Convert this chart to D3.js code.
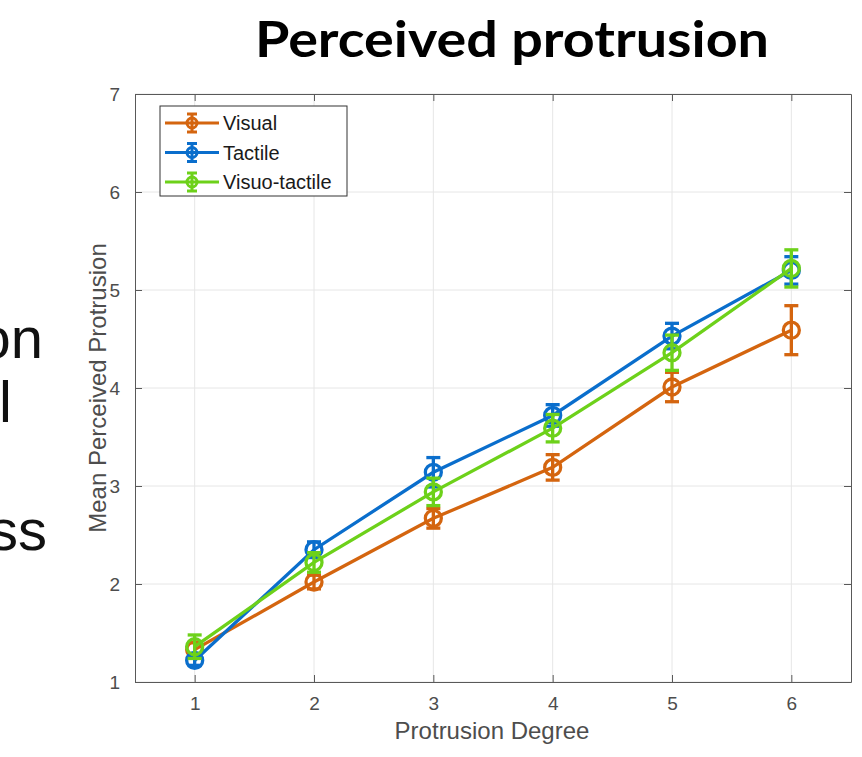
<!DOCTYPE html>
<html>
<head>
<meta charset="utf-8">
<script src="https://cdn.jsdelivr.net/npm/d3@7"></script>
<style>
  body { margin:0; background:#fff; }
  svg { display:block; }
</style>
</head>
<body>
<svg id="viewer"></svg>
<script>
// data
var degrees = [1,2,3,4,5,6];
var seriesNames = ['Visual','Tactile','Visuo-tactile'];
var visualMean  = [1.33,2.02,2.67,3.19,4.01,4.59];
var visualErr   = [0.07,0.07,0.10,0.13,0.15,0.25];
var tactileMean = [1.22,2.35,3.14,3.72,4.53,5.20];
var tactileErr  = [0.05,0.08,0.15,0.11,0.13,0.14];
var visuoMean   = [1.36,2.22,2.94,3.59,4.36,5.22];
var visuoErr    = [0.12,0.10,0.14,0.14,0.18,0.19];
var yTicks = [1,2,3,4,5,6,7];
var sideText = ['on','l','','ss'];

var colors = ['#d4650f','#0a6ecc','#6dd11a'];
var series = [
  {name:seriesNames[0], mean:visualMean,  err:visualErr,  color:colors[0]},
  {name:seriesNames[1], mean:tactileMean, err:tactileErr, color:colors[1]},
  {name:seriesNames[2], mean:visuoMean,   err:visuoErr,   color:colors[2]}
];

var viewer = d3.select('#viewer')
  .attr('width',862)
  .attr('height',757);

viewer.append('rect')
  .attr('width',862).attr('height',757).attr('fill','#fff');

// slide text on the left, cut off by the page edge as in the original
viewer.selectAll('.side')
  .data(sideText)
  .enter().append('text')
    .attr('class','side')
    .attr('x',function(d){ return d=='l' ? 12 : (d=='ss' ? 47 : 43); })
    .attr('y',function(d,i){ return 358+i*64; })
    .attr('text-anchor','end')
    .style('font-family','"Liberation Sans", Arial, sans-serif')
    .style('font-size','58px')
    .style('fill','#111')
    .text(function(d){ return d; });

// title
viewer.append('text')
  .attr('x',512)
  .attr('y',57)
  .attr('text-anchor','middle')
  .attr('textLength',514)
  .attr('lengthAdjust','spacingAndGlyphs')
  .style('font-family','Lato, "Open Sans", sans-serif')
  .style('font-weight','bold')
  .style('font-size','50px')
  .style('fill','#000')
  .text('Perceived protrusion');

var pL = 135, pR = 851, pT = 94, pB = 682;
var x = d3.scaleLinear().domain([0.5,6.5]).range([pL,pR]);
var y = d3.scaleLinear().domain([1,7]).range([pB,pT]);

var plot = viewer.append('g');

// grid
plot.selectAll('.gx')
  .data(degrees)
  .enter().append('line')
    .attr('class','gx')
    .attr('x1',function(d){return x(d);}).attr('x2',function(d){return x(d);})
    .attr('y1',pT).attr('y2',pB)
    .style('stroke','#e6e6e6').style('stroke-width',1);
plot.selectAll('.gy')
  .data(yTicks)
  .enter().append('line')
    .attr('class','gy')
    .attr('y1',function(d){return y(d);}).attr('y2',function(d){return y(d);})
    .attr('x1',pL).attr('x2',pR)
    .style('stroke','#e6e6e6').style('stroke-width',1);

// axes
var tickFont = function(g){
  g.selectAll('text')
    .style('font-family','"Liberation Sans", Arial, sans-serif')
    .style('font-size','19px')
    .style('fill','#4d4d4d');
  g.selectAll('line').style('stroke','#595959');
  g.select('.domain').style('stroke','#595959');
};

plot.append('g')
  .attr('transform','translate(0,'+pB+')')
  .call(d3.axisBottom(x).tickValues(degrees).tickSizeInner(-7).tickSizeOuter(0).tickPadding(15).tickFormat(d3.format('d')))
  .call(tickFont);
plot.append('g')
  .attr('transform','translate(0,'+pT+')')
  .call(d3.axisTop(x).tickValues(degrees).tickSizeInner(-7).tickSizeOuter(0).tickFormat(''))
  .call(tickFont);
plot.append('g')
  .attr('transform','translate('+pL+',0)')
  .call(d3.axisLeft(y).tickValues(yTicks).tickSizeInner(-7).tickSizeOuter(0).tickPadding(15).tickFormat(d3.format('d')))
  .call(tickFont);
plot.append('g')
  .attr('transform','translate('+pR+',0)')
  .call(d3.axisRight(y).tickValues(yTicks).tickSizeInner(-7).tickSizeOuter(0).tickFormat(''))
  .call(tickFont);

// axis labels
viewer.append('text')
  .attr('x',492)
  .attr('y',739)
  .attr('text-anchor','middle')
  .style('font-family','"Liberation Sans", Arial, sans-serif')
  .style('font-size','24px')
  .style('fill','#4d4d4d')
  .text('Protrusion Degree');
viewer.append('text')
  .attr('transform','translate(106,'+((pT+pB)/2)+') rotate(-90)')
  .attr('text-anchor','middle')
  .style('font-family','"Liberation Sans", Arial, sans-serif')
  .style('font-size','24px')
  .style('fill','#4d4d4d')
  .text('Mean Perceived Protrusion');

// series
var line = d3.line()
  .x(function(d){return x(d.x);})
  .y(function(d){return y(d.m);});

var seriesViews = plot.selectAll('.series')
  .data(series)
  .enter().append('g')
    .attr('class','series')
    .style('stroke',function(d){return d.color;})
    .style('fill','none')
    .style('stroke-width',3.3);

function pts(s){
  return degrees.map(function(dg,i){ return {x:dg, m:s.mean[i], e:s.err[i]}; });
}

seriesViews.append('path')
  .attr('d',function(s){ return line(pts(s)); });

var marks = seriesViews.selectAll('.pt')
  .data(function(s){ return pts(s); })
  .enter().append('g').attr('class','pt');

marks.append('line')
  .attr('x1',function(d){return x(d.x);}).attr('x2',function(d){return x(d.x);})
  .attr('y1',function(d){return y(d.m-d.e);}).attr('y2',function(d){return y(d.m+d.e);});
marks.append('line')
  .attr('x1',function(d){return x(d.x)-7;}).attr('x2',function(d){return x(d.x)+7;})
  .attr('y1',function(d){return y(d.m+d.e);}).attr('y2',function(d){return y(d.m+d.e);});
marks.append('line')
  .attr('x1',function(d){return x(d.x)-7;}).attr('x2',function(d){return x(d.x)+7;})
  .attr('y1',function(d){return y(d.m-d.e);}).attr('y2',function(d){return y(d.m-d.e);});
marks.append('circle')
  .attr('cx',function(d){return x(d.x);})
  .attr('cy',function(d){return y(d.m);})
  .attr('r',8);

// legend
var legend = viewer.append('g');
legend.append('rect')
  .attr('x',160).attr('y',106).attr('width',187).attr('height',90)
  .style('fill','#fff').style('stroke','#333').style('stroke-width',1);

var entries = legend.selectAll('.entry')
  .data(series)
  .enter().append('g')
    .attr('class','entry')
    .attr('transform',function(d,i){return 'translate(0,'+(123+i*29.5)+')';});

entries.append('line')
  .attr('x1',165).attr('x2',219).attr('y1',0).attr('y2',0)
  .style('stroke',function(d){return d.color;}).style('stroke-width',3);
entries.append('line')
  .attr('x1',192).attr('x2',192).attr('y1',-9).attr('y2',9)
  .style('stroke',function(d){return d.color;}).style('stroke-width',3);
entries.append('line')
  .attr('x1',187).attr('x2',197).attr('y1',-9).attr('y2',-9)
  .style('stroke',function(d){return d.color;}).style('stroke-width',3);
entries.append('line')
  .attr('x1',187).attr('x2',197).attr('y1',9).attr('y2',9)
  .style('stroke',function(d){return d.color;}).style('stroke-width',3);
entries.append('circle')
  .attr('cx',192).attr('cy',0).attr('r',5)
  .style('fill','none')
  .style('stroke',function(d){return d.color;}).style('stroke-width',3);
entries.append('text')
  .attr('x',223).attr('y',7)
  .style('font-family','"Liberation Sans", Arial, sans-serif')
  .style('font-size','20px')
  .style('fill','#1a1a1a')
  .text(function(d){return d.name;});
</script>
</body>
</html>
